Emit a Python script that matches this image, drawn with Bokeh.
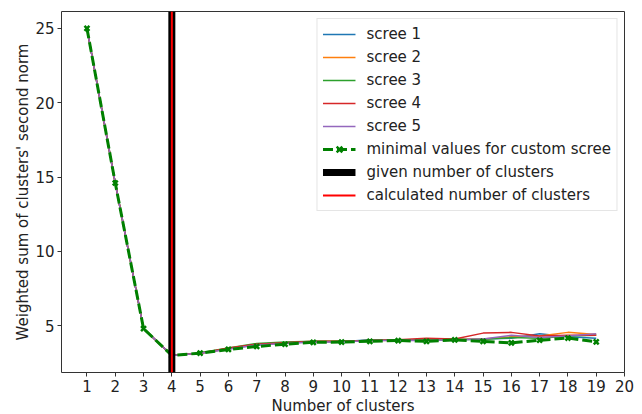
from bokeh.plotting import figure
from bokeh.models import Range1d, FixedTicker, Legend, LegendItem, Title
from bokeh.embed import file_html
from bokeh.resources import INLINE

clusters = list(range(1, 20))
scree1 = [25.0, 14.6, 4.8, 3.0, 3.15, 3.45, 3.7, 3.85, 3.9, 3.92, 4.05, 4.0, 4.05, 4.05, 4.1, 4.15, 4.45, 4.25, 4.15]
scree2 = [25.0, 14.6, 4.8, 3.0, 3.15, 3.45, 3.75, 3.85, 3.92, 3.95, 4.0, 4.02, 4.05, 4.08, 4.1, 4.25, 4.3, 4.55, 4.4]
scree3 = [25.0, 14.6, 4.8, 3.0, 3.18, 3.5, 3.8, 3.9, 3.95, 3.95, 4.0, 4.05, 4.05, 4.05, 4.08, 4.2, 4.15, 4.3, 4.35]
scree4 = [25.0, 14.6, 4.8, 3.0, 3.15, 3.5, 3.75, 3.85, 3.95, 3.95, 4.0, 4.05, 4.15, 4.1, 4.5, 4.55, 4.3, 4.35, 4.35]
scree5 = [25.0, 14.6, 4.8, 3.0, 3.15, 3.42, 3.7, 3.8, 3.9, 3.92, 3.98, 4.02, 4.0, 4.05, 4.1, 4.35, 4.2, 4.3, 4.45]
minimal = [25.0, 14.6, 4.8, 3.0, 3.15, 3.4, 3.6, 3.75, 3.88, 3.9, 3.95, 4.0, 3.95, 4.04, 3.95, 3.84, 4.02, 4.17, 3.91]
given_k = 4
calculated_k = 4
x_ticks = list(range(1, 21))
y_ticks = [5, 10, 15, 20, 25]

scree_names = ["scree 1", "scree 2", "scree 3", "scree 4", "scree 5"]
scree_colors = ["#1f77b4", "#ff7f0e", "#2ca02c", "#d62728", "#9467bd"]

FONT = "DejaVu Sans"
x_lo, x_hi = 0.1, 20.0
y_lo, y_hi = 1.85, 26.14

p = figure(width=642, height=414, output_backend="svg", toolbar_location=None,
           x_range=Range1d(x_lo, x_hi), y_range=Range1d(y_lo, y_hi),
           min_border_left=61, min_border_top=11, min_border_right=18, min_border_bottom=41)
p.background_fill_color = "white"
p.border_fill_color = "white"
p.outline_line_color = "#333333"
p.outline_line_width = 1
p.xgrid.visible = False
p.ygrid.visible = False

for ax in (p.xaxis[0], p.yaxis[0]):
    ax.major_label_text_font = FONT
    ax.major_label_text_font_size = "15px"
    ax.major_label_text_color = "#222222"
    ax.axis_label_text_font = FONT
    ax.axis_label_text_font_size = "15px"
    ax.axis_label_text_font_style = "normal"
    ax.axis_label_text_color = "#222222"
    ax.minor_tick_line_color = None
    ax.major_tick_in = 0
    ax.major_tick_out = 4
    ax.major_tick_line_color = "#333333"
    ax.axis_line_color = None
    ax.major_label_standoff = 3

p.xaxis.ticker = FixedTicker(ticks=x_ticks)
p.yaxis.ticker = FixedTicker(ticks=y_ticks)
p.yaxis.axis_label = "Weighted sum of clusters' second norm"
p.yaxis.axis_label_standoff = 0

xtitle = Title(text="Number of clusters", align="center", standoff=0, offset=0,
               text_font=FONT, text_font_size="15px", text_font_style="normal",
               text_color="#222222")
p.add_layout(xtitle, "below")

items = []
for name, col, ys in zip(scree_names, scree_colors, [scree1, scree2, scree3, scree4, scree5]):
    r = p.line(clusters, ys, line_color=col, line_width=1.5)
    items.append(LegendItem(label=name, renderers=[r]))

rl = p.line(clusters, minimal, line_color="#008000", line_width=3, line_dash="10 4")
rs = p.scatter(clusters, minimal, marker="x", size=7, line_color="#008000", line_width=2.5)
items.append(LegendItem(label="minimal values for custom scree", renderers=[rl, rs]))

rg = p.segment(x0=[given_k], y0=[y_lo], x1=[given_k], y1=[y_hi], line_color="black", line_width=7)
items.append(LegendItem(label="given number of clusters", renderers=[rg]))
rc = p.segment(x0=[calculated_k], y0=[y_lo], x1=[calculated_k], y1=[y_hi], line_color="#ff0000", line_width=2)
items.append(LegendItem(label="calculated number of clusters", renderers=[rc]))

legend = Legend(items=items, location="top_right")
legend.label_text_font = FONT
legend.label_text_font_size = "15px"
legend.label_text_color = "#222222"
legend.glyph_width = 33
legend.glyph_height = 20
legend.label_height = 20
legend.spacing = 3
legend.padding = 5
legend.margin = 7
legend.label_standoff = 11
legend.border_line_color = "#cccccc"
legend.border_line_width = 1
legend.background_fill_alpha = 0.8
p.add_layout(legend)

open("out.html", "w").write(file_html(p, INLINE))
